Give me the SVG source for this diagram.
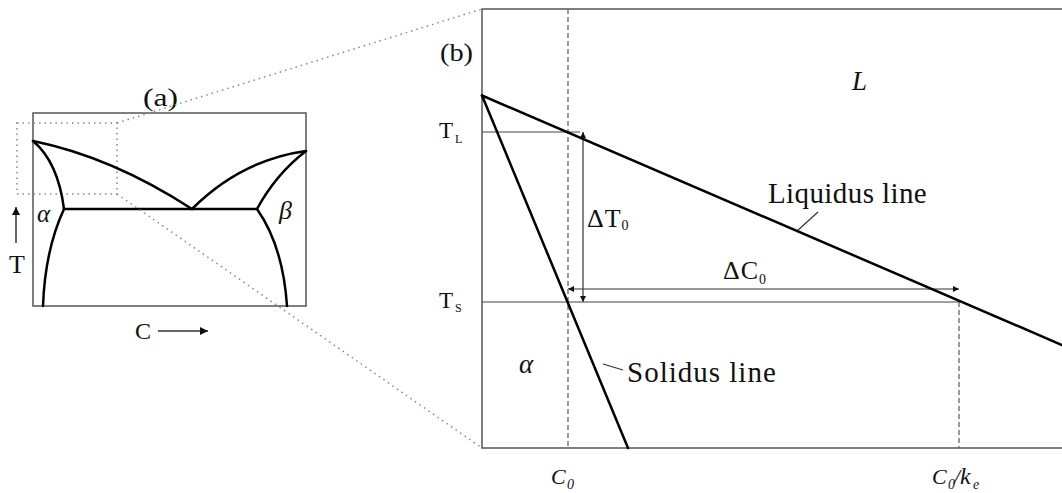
<svg xmlns="http://www.w3.org/2000/svg" width="1062" height="493" viewBox="0 0 1062 493">
<style>
text{font-family:"Liberation Serif","Times New Roman",serif;fill:#111}
.it{font-style:italic}
.frame{fill:none;stroke:#555;stroke-width:1.5}
.curve{fill:none;stroke:#000;stroke-width:2.5;stroke-linecap:round}
.thin{fill:none;stroke:#444;stroke-width:1.2}
.dash{fill:none;stroke:#666;stroke-width:1.3;stroke-dasharray:5,3}
.dot{fill:none;stroke:#888;stroke-width:1.5;stroke-dasharray:1.5,4}
</style>
<defs>
<marker id="ah" viewBox="0 0 10 10" refX="10" refY="5" markerWidth="6" markerHeight="6" orient="auto-start-reverse" markerUnits="userSpaceOnUse">
<path d="M0,0 L10,5 L0,10 Z" fill="#111"/>
</marker>
<marker id="ab" viewBox="0 0 10 10" refX="10" refY="5" markerWidth="10" markerHeight="8" orient="auto" markerUnits="userSpaceOnUse">
<path d="M0,0 L10,5 L0,10 Z" fill="#111"/>
</marker>
</defs>

<g id="panel-a">
<rect class="frame" x="33" y="113" width="273" height="193" stroke="#777"/>
<rect class="dot" x="17" y="123" width="100" height="71"/>
<path class="curve" d="M33,141 Q112,157 192,209"/>
<path class="curve" d="M192,209 Q241,160 306,151"/>
<path class="curve" d="M33,141 Q58,162 64,209"/>
<path class="curve" d="M64,209 Q45,250 43,306"/>
<path class="curve" d="M306,151 Q276,174 257,209"/>
<path class="curve" d="M257,209 Q283,246 287,306"/>
<path class="curve" d="M64,209 H257"/>
<text x="143" y="106" font-size="26" textLength="35" lengthAdjust="spacingAndGlyphs">(a)</text>
<text class="it" x="37" y="222" font-size="25">α</text>
<text class="it" x="279" y="219" font-size="26">β</text>
<text x="9" y="273" font-size="26">T</text>
<text x="135" y="339" font-size="24">C</text>
</g>

<g id="connectors">
<line class="dot" x1="117" y1="123" x2="482" y2="9"/>
<line class="dot" x1="117" y1="194" x2="482" y2="448"/>
<line x1="16" y1="243" x2="16" y2="207" stroke="#333" stroke-width="1.5" marker-end="url(#ab)"/>
<line x1="158" y1="331" x2="208" y2="331" stroke="#333" stroke-width="1.5" marker-end="url(#ab)"/>
<line x1="583" y1="302" x2="583" y2="132" stroke="#333" stroke-width="1.2" marker-start="url(#ah)" marker-end="url(#ah)"/>
<line x1="568" y1="289" x2="959" y2="289" stroke="#333" stroke-width="1.2" marker-start="url(#ah)" marker-end="url(#ah)"/>
<line x1="818" y1="212" x2="797" y2="231" stroke="#333" stroke-width="1.2"/>
<line x1="603" y1="364" x2="623" y2="370" stroke="#333" stroke-width="1.2"/>
</g>

<g id="panel-b">
<path class="frame" d="M1062,9 H482 V448 H1062" stroke="#444"/>
<line class="dash" x1="568" y1="9" x2="568" y2="448"/>
<line class="dash" x1="959" y1="302" x2="959" y2="448"/>
<line class="thin" x1="482" y1="132" x2="580" y2="132"/>
<line class="thin" x1="482" y1="302" x2="959" y2="302"/>
<line class="curve" x1="482" y1="95.5" x2="1062" y2="345"/>
<line class="curve" x1="482" y1="95.5" x2="628" y2="448"/>
<text x="440" y="61" font-size="26" textLength="33" lengthAdjust="spacingAndGlyphs">(b)</text>
<text class="it" x="852" y="90" font-size="27">L</text>
<text x="439" y="138" font-size="23">T<tspan font-size="12" x="455" dy="5">L</tspan></text>
<text x="439" y="308" font-size="23">T<tspan font-size="12" x="455" dy="4">S</tspan></text>
<text x="587" y="227" font-size="26" letter-spacing="1">ΔT<tspan font-size="14" dy="3">0</tspan></text>
<text x="723" y="279" font-size="26" letter-spacing="1">ΔC<tspan font-size="14" dy="5">0</tspan></text>
<text x="768" y="203" font-size="29" letter-spacing="0.4">Liquidus line</text>
<text x="627" y="382" font-size="29" letter-spacing="1">Solidus line</text>
<text class="it" x="519" y="373" font-size="27">α</text>
<text class="it" x="551" y="484" font-size="22">C<tspan font-size="14" x="567" dy="5">0</tspan></text>
<text class="it" x="932" y="484" font-size="22">C<tspan font-size="14" x="948" dy="5">0</tspan><tspan x="954" dy="-5">/</tspan><tspan x="960" font-size="24">k</tspan><tspan font-size="14" x="973" dy="5">e</tspan></text>
</g>
</svg>
